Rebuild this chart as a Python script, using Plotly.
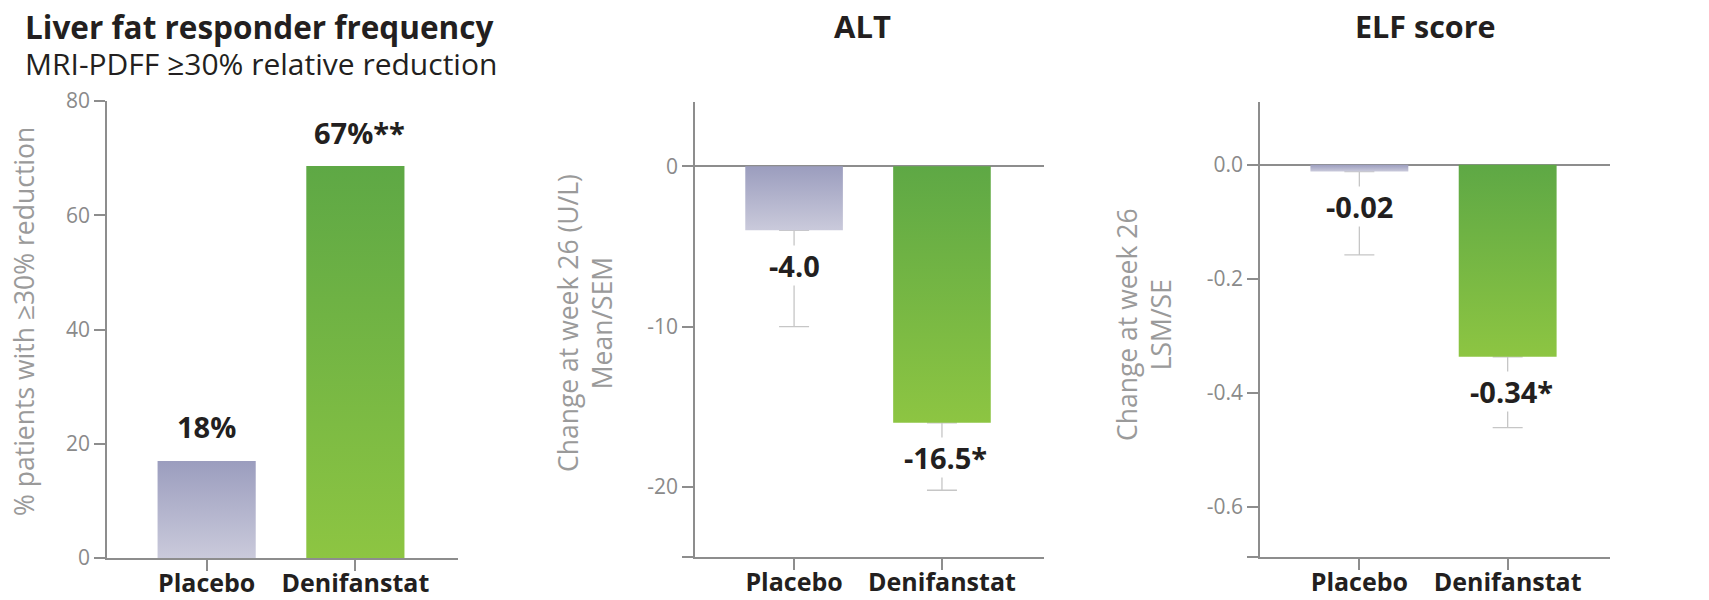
import plotly.graph_objects as go

# ---------------- data ----------------
categories = ["Placebo", "Denifanstat"]

responder_pct = [17.0, 68.6]
responder_labels = ["18%", "67%**"]

alt_change = [-4.0, -16.0]
alt_sem = [6.0, 4.2]
alt_labels = ["-4.0", "-16.5*"]

elf_change = [-0.012, -0.337]
elf_se = [0.146, 0.124]
elf_labels = ["-0.02", "-0.34*"]

y1_ticks = [0, 20, 40, 60, 80]
y2_ticks = [-20, -10, 0]
y3_ticks = [-0.6, -0.4, -0.2, 0.0]

# ---------------- style ----------------
FONT = "Open Sans"
TXT = "#231f20"
AX = "#8d8d8d"
TICKTXT = "#8a8a8a"
TITLETXT = "#9a9a9a"
ERR = "#c6c6c6"
GRAD = {
    "Placebo": [[0, "#cacadb"], [1, "#9b9dbe"]],
    "Denifanstat": [[0, "#8dc542"], [1, "#5ea845"]],
}
HALF_W = 0.33
XR = [-0.67, 1.69]

PAGE_MARGIN = 8                     # default body margin of the page
W, H = 1709 - 2 * PAGE_MARGIN, 600 - PAGE_MARGIN


def px_x(p):  # page pixel -> paper x
    return (p - PAGE_MARGIN) / W


def px_y(p):  # page pixel (from top) -> paper y
    return 1 - (p - PAGE_MARGIN) / H


fig = go.Figure()


def add_panel(n, values, errors, labels, label_shift):
    xa = "x" if n == 1 else f"x{n}"
    ya = "y" if n == 1 else f"y{n}"
    if errors is not None:
        fig.add_trace(go.Scatter(
            x=list(range(len(values))), y=values, mode="markers",
            marker=dict(size=1, opacity=0),
            error_y=dict(type="data", symmetric=False,
                         array=[0] * len(values), arrayminus=errors,
                         color=ERR, thickness=1.3, width=15),
            xaxis=xa, yaxis=ya, showlegend=False, hoverinfo="skip"))
    for i, (cat, v) in enumerate(zip(categories, values)):
        fig.add_trace(go.Scatter(
            x=[i - HALF_W, i + HALF_W, i + HALF_W, i - HALF_W, i - HALF_W],
            y=[0, 0, v, v, 0], mode="lines", fill="toself",
            line=dict(width=0, color="rgba(0,0,0,0)"),
            fillgradient=dict(type="vertical", colorscale=GRAD[cat]),
            xaxis=xa, yaxis=ya, showlegend=False, name=cat))
    for i, (v, t) in enumerate(zip(values, labels)):
        fig.add_annotation(
            x=i, y=v, xref=xa, yref=ya, text=f"<b>{t}</b>", showarrow=False,
            yshift=label_shift, xshift=4 if "*" in t else 0,
            font=dict(family=FONT, size=29, color=TXT),
            bgcolor="white" if errors is not None else None, borderpad=0)


add_panel(1, responder_pct, None, responder_labels, 34)
add_panel(2, alt_change, alt_sem, alt_labels, -35)
add_panel(3, elf_change, elf_se, elf_labels, -35)

xcommon = dict(range=XR, tickvals=list(range(len(categories))),
               ticktext=[f"<b>{c}</b>" for c in categories],
               showline=True, linecolor=AX, linewidth=1.6,
               ticks="outside", ticklen=11, tickwidth=1.6, tickcolor=AX,
               tickfont=dict(family=FONT, size=25, color=TXT),
               showgrid=False, zeroline=False, fixedrange=True,
               automargin=False, ticklabelstandoff=-9)
ycommon = dict(showline=True, linecolor=AX, linewidth=1.6,
               ticks="outside", ticklen=11, tickwidth=1.6, tickcolor=AX,
               tickfont=dict(family=FONT, size=21, color=TICKTXT),
               showgrid=False, fixedrange=True, automargin=False)

yb = [px_y(558), px_y(101)]
yb2 = [px_y(557), px_y(102)]

y2_range = [-24.36, 4.0]
y3_range = [-0.688, 0.11]

fig.update_layout(
    template="none",
    width=W, height=H, autosize=False,
    margin=dict(l=0, r=0, t=0, b=0, pad=0),
    paper_bgcolor="white", plot_bgcolor="white",
    font=dict(family=FONT),
    showlegend=False,
    xaxis=dict(domain=[px_x(107), px_x(458)], anchor="y", **xcommon),
    yaxis=dict(domain=yb, anchor="x", range=[0, 80], tickvals=y1_ticks,
               zeroline=False, **ycommon),
    xaxis2=dict(domain=[px_x(695), px_x(1044)], anchor="y2", **xcommon),
    yaxis2=dict(domain=yb2, anchor="x2", range=y2_range,
                tickvals=[y2_range[0]] + y2_ticks,
                ticktext=[""] + [f"{t:g}" for t in y2_ticks],
                zeroline=True, zerolinecolor=AX, zerolinewidth=1.6, **ycommon),
    xaxis3=dict(domain=[px_x(1260), px_x(1610)], anchor="y3", **xcommon),
    yaxis3=dict(domain=yb2, anchor="x3", range=y3_range,
                tickvals=[y3_range[0]] + y3_ticks,
                ticktext=[""] + [f"{t:.1f}" for t in y3_ticks],
                zeroline=True, zerolinecolor=AX, zerolinewidth=1.6, **ycommon),
)

# titles (panel 1 title + subtitle in one text block)
fig.add_annotation(x=px_x(23), y=px_y(44), xref="paper", yref="paper",
                   xanchor="left", yanchor="middle", showarrow=False, align="left",
                   text=("<span style='font-size:31.5px'><b>Liver fat responder frequency</b></span><br>"
                         "<span style='font-size:30px'>MRI-PDFF ≥30% relative reduction</span>"),
                   font=dict(family=FONT, size=28, color=TXT))
fig.add_annotation(x=px_x(862), y=px_y(26), xref="paper", yref="paper",
                   xanchor="center", yanchor="middle", showarrow=False,
                   text="<b>ALT</b>", font=dict(family=FONT, size=31, color=TXT))
fig.add_annotation(x=px_x(1425), y=px_y(26), xref="paper", yref="paper",
                   xanchor="center", yanchor="middle", showarrow=False,
                   text="<b>ELF score</b>", font=dict(family=FONT, size=30.5, color=TXT))

# y-axis titles
for xc, yc, txt in [(24, 322, "% patients with ≥30% reduction"),
                    (585, 323, "Change at week 26 (U/L)<br>Mean/SEM"),
                    (1144, 325, "Change at week 26<br>LSM/SE")]:
    fig.add_annotation(x=px_x(xc), y=px_y(yc), xref="paper", yref="paper",
                       xanchor="center", yanchor="middle", showarrow=False,
                       textangle=-90, text=txt,
                       font=dict(family=FONT, size=26.5, color=TITLETXT))

fig.write_html("out.html")
